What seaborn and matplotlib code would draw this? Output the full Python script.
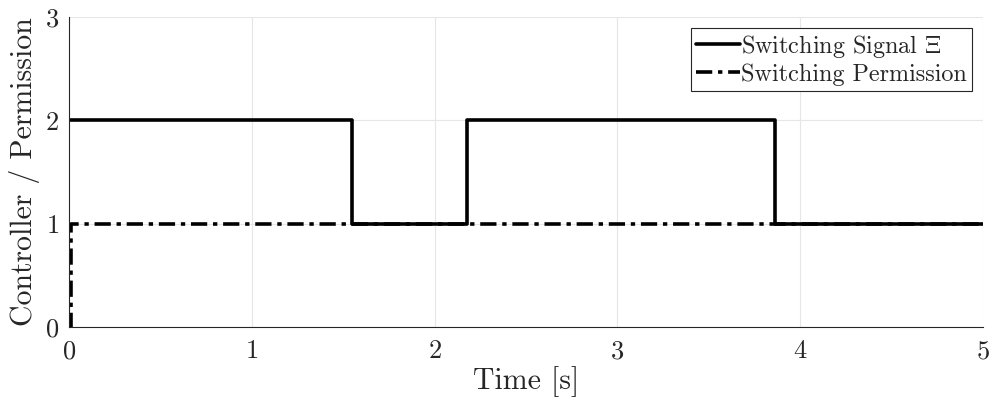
import matplotlib
matplotlib.use("Agg")
import matplotlib.pyplot as plt
import seaborn as sns
import pandas as pd

# data
signal_t = [0.0, 1.548, 1.548, 2.177, 2.177, 3.862, 3.862, 5.0]
signal_v = [2, 2, 1, 1, 2, 2, 1, 1]
perm_t = [0.0, 0.01, 0.01, 5.0]
perm_v = [0, 0, 1, 1]
xticks = [0, 1, 2, 3, 4, 5]
yticks = [0, 1, 2, 3]

sns.set_theme(style="whitegrid")
plt.rcParams['font.family'] = ['cmr10', 'DejaVu Serif']
plt.rcParams['mathtext.fontset'] = 'cm'
plt.rcParams['axes.formatter.use_mathtext'] = True

fig = plt.figure(figsize=(9.97, 4.09), dpi=100)
ax = fig.add_axes([0.0692, 0.2005, 0.9168, 0.7577])

df_s = pd.DataFrame({"t": signal_t, "v": signal_v})
df_p = pd.DataFrame({"t": perm_t, "v": perm_v})
sns.lineplot(data=df_s, x="t", y="v", ax=ax, color="black", lw=2.6,
             sort=False, label=r"Switching Signal $\Xi$", estimator=None)
sns.lineplot(data=df_p, x="t", y="v", ax=ax, color="black", lw=2.6,
             sort=False, label="Switching Permission", estimator=None,
             linestyle=(0, (4.5, 1.6, 1.2, 1.6)))

ax.set_xlim(0, 5)
ax.set_ylim(0, 3)
ax.set_xticks(xticks)
ax.set_yticks(yticks)
ax.tick_params(labelsize=19, length=0)
ax.tick_params(axis="x", pad=9)
ax.tick_params(axis="y", pad=7)
ax.set_xlabel("Time [s]", fontsize=21.5, labelpad=2)
ax.set_ylabel("Controller / Permission", fontsize=21.5, labelpad=4)
ax.grid(True, color="#e6e6e6", lw=0.8)
for s in ["top", "right"]:
    ax.spines[s].set_visible(False)
for s in ["left", "bottom"]:
    ax.spines[s].set_color("#262626")
    ax.spines[s].set_linewidth(0.8)

leg = ax.legend(loc="upper right", fontsize=17.4, frameon=True, fancybox=False,
                handlelength=1.8, handletextpad=0.08, borderpad=0.2,
                labelspacing=0.15, borderaxespad=0.45)
leg.get_frame().set_edgecolor("#262626")
leg.get_frame().set_linewidth(0.8)
leg.get_frame().set_alpha(1)

fig.savefig("out.png", dpi=100)
